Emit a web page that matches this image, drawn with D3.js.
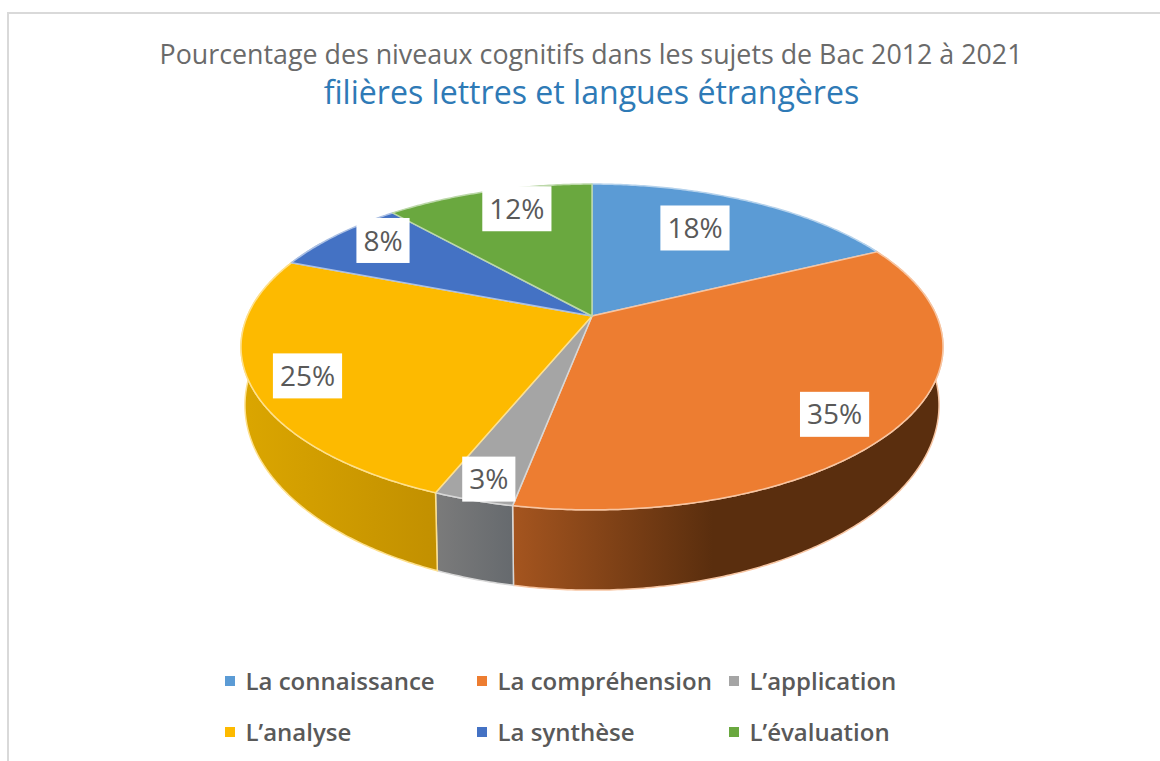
<!DOCTYPE html>
<html><head><meta charset="utf-8">
<script src="https://cdn.jsdelivr.net/npm/d3@7"></script>
<style>html,body{margin:0;padding:0;background:#fff}svg{display:block}text{font-family:"Open Sans",sans-serif}</style>
</head><body><svg id="c" width="1160" height="761"></svg>
<script>
const titleLine1 = "Pourcentage des niveaux cognitifs dans les sujets de Bac 2012 à 2021";
const titleLine2 = "filières lettres et langues étrangères";
const categories = ["La connaissance","La compréhension","L’application","L’analyse","La synthèse","L’évaluation"];
const values = [17.7,35.3,3.1,24.8,7.6,11.5];
const topColors = ["#5b9bd5","#ed7d31","#a5a5a5","#fdba00","#4472c4","#6aa83f"];
const wallStops = [["#5b9bd5","#3d6d99"],["#a5551f","#5a2e0e"],["#7b7b7b","#666a6e"],["#dba600","#c29000"],["#2f5597","#2f5597"],["#4e7a2e","#4e7a2e"]];
const labelRadius = [.711,.842,.903,.848,.852,.824];
const labelTurn = [-3.8,4.4,-.3,-1.4,3.5,3];

const svg = d3.select("#c");
// chart frame
svg.append("path").attr("d","M8 761V13H1160").attr("fill","none").attr("stroke","#d9d9d9").attr("stroke-width",2);

// perspective projection of the pie disc (upper face and lower face of the cylinder)
const cx=592, k=.19;
const upper={cy:316,A:344.6,B:157}, lower={cy:370,A:340.7,B:178.3};
function project(face,theta,r=1){
  const u=r*Math.sin(theta), c=r*Math.cos(theta), w=1+k*c;
  return [cx+face.A*u/w, face.cy-face.B*c/w];
}
const rimTop=(t,r)=>project(upper,t,r), rimBottom=t=>project(lower,t);
const pie=d3.pie().sort(null).startAngle(0).endAngle(2*Math.PI);
const arcs=pie(values);
const color=d3.scaleOrdinal(categories,topColors);
const tint=i=>d3.interpolateRgb(topColors[i],"#fff")(.55);
const line=d3.line();
const samples=(a,b)=>{const n=Math.max(2,Math.ceil((b-a)/.01));return d3.range(n+1).map(i=>a+(b-a)*i/n);};

// gradients
const defs=svg.append("defs");
const wallMin=60*Math.PI/180, wallMax=300*Math.PI/180;
const walls=arcs.map((d,i)=>({i,a:Math.max(d.startAngle,wallMin),b:Math.min(d.endAngle,wallMax)})).filter(d=>d.b>d.a);
walls.forEach(d=>{
  const xs=samples(d.a,d.b).map(t=>rimTop(t)[0]);
  const x1=d3.min(xs),x2=d3.max(xs);
  const g=defs.append("linearGradient").attr("id","w"+d.i).attr("gradientUnits","userSpaceOnUse")
    .attr("x1",x1).attr("x2",d.i===1?x1+200:x2).attr("y1",0).attr("y2",0);
  g.append("stop").attr("offset",0).attr("stop-color",wallStops[d.i][0]);
  g.append("stop").attr("offset",1).attr("stop-color",wallStops[d.i][1]);
});
// side walls
svg.append("g").selectAll("path").data(walls).join("path")
  .attr("d",d=>{
    const ang=samples(d.a,d.b);
    return line(ang.map(t=>rimTop(t)).concat(ang.slice().reverse().map(t=>rimBottom(t))))+"Z";
  })
  .attr("fill",d=>`url(#w${d.i})`)
  .attr("stroke",d=>tint(d.i))
  .attr("stroke-width",1.5);
// top surface
svg.append("g").selectAll("path").data(arcs).join("path")
  .attr("d",d=>{
    const pts=[[cx,316]].concat(samples(d.startAngle,d.endAngle).map(t=>rimTop(t)));
    return line(pts)+"Z";
  })
  .attr("fill",(d,i)=>color(categories[i]))
  .attr("stroke",(d,i)=>tint(i))
  .attr("stroke-width",1.5).attr("stroke-linejoin","round");

// data labels
const fmt=d3.format(".0f");
const lab=svg.append("g").selectAll("g").data(arcs).join("g").attr("transform",(d,i)=>{
  const mid=(d.startAngle+d.endAngle)/2+labelTurn[i]*Math.PI/180;
  return `translate(${rimTop(mid,labelRadius[i])})`;
});
const labelFont=28;
lab.append("text").text(d=>fmt(d.value)+"%").attr("text-anchor","middle").attr("dy",".36em")
  .attr("font-size",labelFont).attr("fill","#595959");
lab.insert("rect","text").each(function(){
  const w=this.parentNode.querySelector("text").getComputedTextLength()+14;
  d3.select(this).attr("x",-w/2).attr("width",w).attr("y",-22.5).attr("height",45).attr("fill","#fff");
});

// titles
svg.append("text").attr("x",591).attr("y",64).attr("text-anchor","middle").attr("font-size",26.8).attr("fill","#6a6a6a").text(titleLine1);
svg.append("text").attr("x",591.5).attr("y",104).attr("text-anchor","middle").attr("font-size",32.1).attr("fill","#2e7ab6").text(titleLine2);

// legend
const legendX=d3.scalePoint().domain([0,1,2]).range([230,734]);
const legendY=d3.scalePoint().domain([0,1]).range([681,732]);
const leg=svg.append("g").selectAll("g").data(categories).join("g")
  .attr("transform",(d,i)=>`translate(${legendX(i%3)},${legendY(Math.floor(i/3))})`);
leg.append("rect").attr("x",-5).attr("y",-5).attr("width",10).attr("height",10).attr("fill",d=>color(d));
leg.append("text").attr("x",15.5).attr("dy",".36em").attr("font-size",24).attr("font-weight",600).attr("fill","#595959").text(d=>d);
</script></body></html>
